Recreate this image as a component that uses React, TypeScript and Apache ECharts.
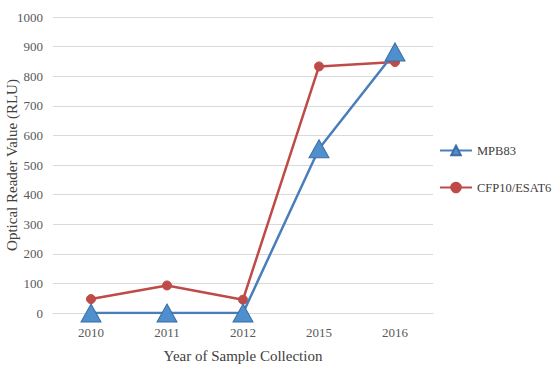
import React, { useEffect, useRef } from "react";
import * as echarts from "echarts";

const categories = ["2010", "2011", "2012", "2015", "2016"];
const mpb83 = [0, 0, 0, 555, 882];
const cfp10 = [47, 93, 45, 833, 848];
const yTicks = { min: 0, max: 1000, interval: 100 };

export default function App() {
  const ref = useRef<HTMLDivElement>(null);
  useEffect(() => {
    const chart = echarts.init(ref.current!, null, { renderer: "svg" });
    const font = "Liberation Serif";
    chart.setOption({
      animation: false,
      textStyle: { fontFamily: font },
      grid: { left: 53, right: 119, top: 17, bottom: 54, containLabel: false, outerBoundsMode: "none" },
      legend: {
        orient: "vertical",
        left: 434,
        top: 139,
        itemGap: 24,
        itemWidth: 32,
        itemHeight: 12,
        textStyle: { fontFamily: font, fontSize: 12.5, color: "#404040" },
        data: [{ name: "MPB83" }, { name: "CFP10/ESAT6" }],
      },
      xAxis: {
        type: "category",
        data: categories,
        boundaryGap: true,
        name: "Year of Sample Collection",
        nameLocation: "middle",
        nameGap: 35,
        nameMoveOverlap: false,
        nameTextStyle: { fontFamily: font, fontSize: 15, color: "#404040" },
        axisLine: { show: true, lineStyle: { color: "#d9d9d9" } },
        axisTick: { show: false },
        axisLabel: { fontFamily: font, fontSize: 13, color: "#595959", margin: 13 },
      },
      yAxis: {
        type: "value",
        min: yTicks.min,
        max: yTicks.max,
        interval: yTicks.interval,
        name: "Optical Reader Value (RLU)",
        nameLocation: "middle",
        nameGap: 34,
        nameMoveOverlap: false,
        nameTextStyle: { fontFamily: font, fontSize: 15, color: "#404040" },
        axisLine: { show: false },
        axisTick: { show: false },
        axisLabel: {
          fontFamily: font,
          fontSize: 13,
          color: "#595959",
          margin: 10,
          formatter: (v: number) => String(v),
        },
        splitLine: { lineStyle: { color: "#d9d9d9", width: 1 } },
      },
      series: [
        {
          name: "MPB83",
          type: "line",
          data: mpb83,
          symbol: "triangle",
          symbolSize: [20, 18],
          lineStyle: { color: "#4a7ebb", width: 2.5 },
          itemStyle: { color: "#4f8fce", borderColor: "#3a6ea5", borderWidth: 1 },
          z: 3,
        },
        {
          name: "CFP10/ESAT6",
          type: "line",
          data: cfp10,
          symbol: "circle",
          symbolSize: 9,
          lineStyle: { color: "#be4b48", width: 2.5 },
          itemStyle: { color: "#be4b48", borderColor: "#be4b48", borderWidth: 1 },
          z: 2,
        },
      ],
    });
    return () => chart.dispose();
  }, []);
  return <div ref={ref} style={{ width: 552, height: 367, position: "absolute", left: 0, top: 0 }} />;
}
